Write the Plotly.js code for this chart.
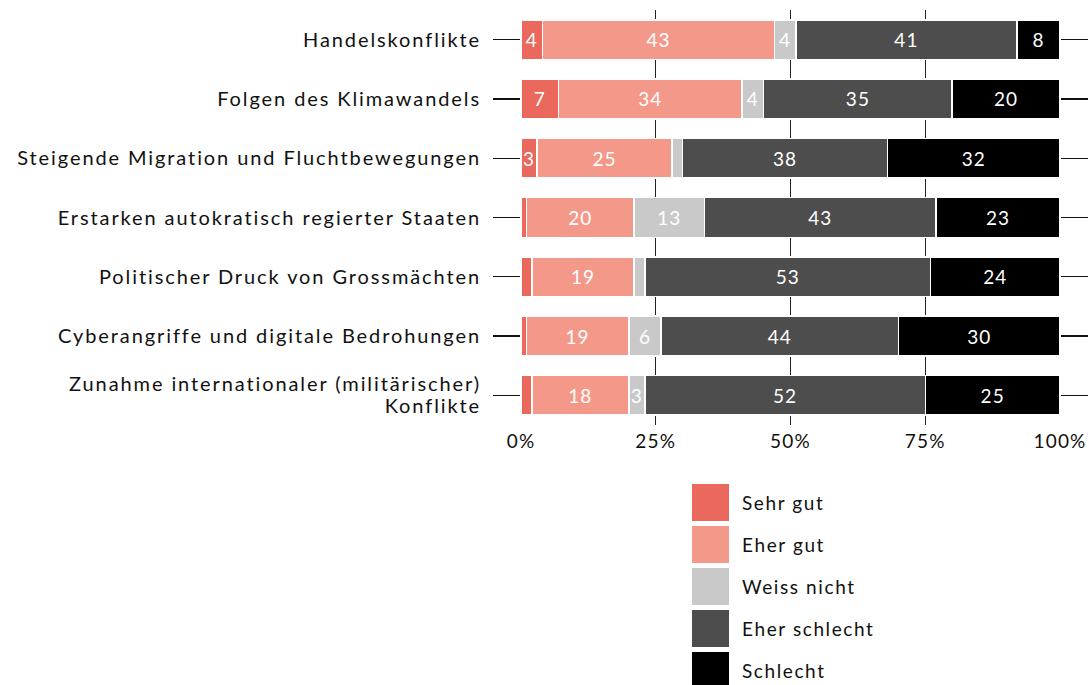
<!DOCTYPE html>
<html>
<head>
<meta charset="utf-8">
<script src="https://cdn.plot.ly/plotly-3.0.1.min.js"></script>
<style>
html, body { margin: 0; padding: 0; background: #fff; }
#chart { width: 1089px; height: 685px; }
#chart .ytick text { letter-spacing: 1.9px; }
#chart .xtick text { letter-spacing: 1.2px; }
text.annotation-text { letter-spacing: 1.6px; }
#chart text.bartext { letter-spacing: 1px; }
</style>
</head>
<body>
<div id="chart"></div>
<script>
const categories = [
  "Handelskonflikte",
  "Folgen des Klimawandels",
  "Steigende Migration und Fluchtbewegungen",
  "Erstarken autokratisch regierter Staaten",
  "Politischer Druck von Grossmächten",
  "Cyberangriffe und digitale Bedrohungen",
  "Zunahme internationaler (militärischer)<br>Konflikte"
];
const seriesNames = ["Sehr gut", "Eher gut", "Weiss nicht", "Eher schlecht", "Schlecht"];
const sehrGut      = [4, 7, 3, 1, 2, 1, 2];
const eherGut      = [43, 34, 25, 20, 19, 19, 18];
const weissNicht   = [4, 4, 2, 13, 2, 6, 3];
const eherSchlecht = [41, 35, 38, 43, 53, 44, 52];
const schlecht     = [8, 20, 32, 23, 24, 30, 25];
const xTickVals = [0, 25, 50, 75, 100];
const xTickText = ["0%", "25%", "50%", "75%", "100%"];

const seriesValues = [sehrGut, eherGut, weissNicht, eherSchlecht, schlecht];
const colors = ["#EA685C", "#F4998A", "#C9C9C9", "#4D4D4D", "#000000"];
const FONT = "Lato, 'Open Sans', sans-serif";

const traces = seriesNames.map((name, i) => ({
  type: "bar",
  orientation: "h",
  name: name,
  y: categories,
  x: seriesValues[i],
  text: seriesValues[i].map(v => v >= 3 ? String(v) : ""),
  textposition: "inside",
  insidetextanchor: "middle",
  textangle: 0,
  constraintext: "none",
  textfont: { color: "#ffffff", size: 19, family: FONT },
  marker: { color: colors[i], line: { color: "#ffffff", width: 1.5 } },
  hoverinfo: "skip",
  showlegend: false
}));

// plot area in pixels
const L = 521, R = 1060, T = 10, B = 425;
const W = 1089, H = 685;
const px2x = p => (p - L) / (R - L);
const px2y = p => (B - p) / (B - T);

const shapes = [];
const annotations = [];
const swX = 692, swSize = 37, swTop = 484, swPitch = 42;
seriesNames.forEach((name, i) => {
  const top = swTop + i * swPitch;
  shapes.push({
    type: "rect", xref: "paper", yref: "paper",
    x0: px2x(swX), x1: px2x(swX + swSize),
    y0: px2y(top + swSize), y1: px2y(top),
    fillcolor: colors[i], line: { width: 0 }
  });
  annotations.push({
    xref: "paper", yref: "paper",
    x: px2x(740), y: px2y(top + swSize / 2),
    xanchor: "left", yanchor: "middle",
    text: name, showarrow: false,
    font: { size: 19, color: "#111", family: FONT }
  });
});

const layout = {
  width: W, height: H,
  margin: { l: L, r: W - R, t: T, b: H - B, pad: 0 },
  barmode: "stack",
  bargap: 0.33,
  paper_bgcolor: "#ffffff",
  plot_bgcolor: "#ffffff",
  font: { family: FONT, size: 20, color: "#111" },
  uniformtext: { mode: "show", minsize: 18 },
  xaxis: {
    range: [0, 100],
    tickvals: xTickVals,
    ticktext: xTickText,
    showgrid: true,
    gridcolor: "#222",
    gridwidth: 1.3,
    zeroline: false,
    showline: false,
    ticks: "",
    ticklabelstandoff: 3,
    tickfont: { size: 19, color: "#111", family: FONT },
    fixedrange: true
  },
  yaxis: {
    type: "category",
    autorange: "reversed",
    showgrid: false,
    zeroline: false,
    showline: false,
    ticks: "outside",
    ticklen: 27,
    tickwidth: 1.3,
    tickcolor: "#111",
    mirror: "ticks",
    ticklabelstandoff: 8,
    tickfont: { size: 20, color: "#111", family: FONT },
    fixedrange: true
  },
  showlegend: false,
  shapes: shapes,
  annotations: annotations
};

Plotly.newPlot("chart", traces, layout, { displayModeBar: false, staticPlot: true }).then(gd => {
  // tighten the line spacing of the two-line category label
  gd.querySelectorAll(".ytick text").forEach(t => {
    const lines = t.querySelectorAll("tspan.line");
    if (lines.length > 1) {
      lines.forEach((ts, k) => { if (k > 0) ts.setAttribute("dy", "1.1em"); });
      const y = parseFloat(t.getAttribute("y") || "0");
      t.setAttribute("y", y + 2);
      lines.forEach(ts => { if (ts.hasAttribute("y")) ts.setAttribute("y", parseFloat(ts.getAttribute("y")) + 2); });
    }
  });
});
</script>
</body>
</html>
